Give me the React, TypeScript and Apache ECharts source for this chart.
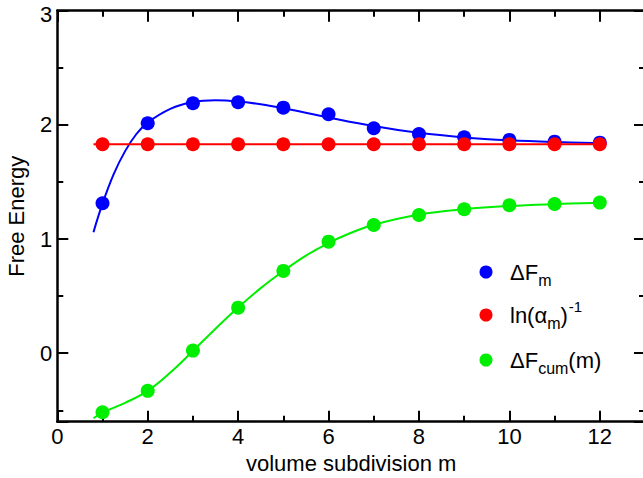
import React, { useEffect, useRef } from "react";
import * as echarts from "echarts";

// ---- data ----
const subdivisions = [1, 2, 3, 4, 5, 6, 7, 8, 9, 10, 11, 12];
const deltaFm = [1.313, 2.014, 2.189, 2.198, 2.151, 2.093, 1.97, 1.92, 1.891, 1.868, 1.853, 1.844];
const lnAlphaInv = [1.83, 1.83, 1.83, 1.83, 1.83, 1.83, 1.83, 1.83, 1.83, 1.83, 1.83, 1.83];
const deltaFcum = [-0.517, -0.33, 0.023, 0.399, 0.721, 0.977, 1.123, 1.211, 1.261, 1.296, 1.307, 1.319];

// fitted curves
const deltaFmFitX = [0.8, 1.0, 1.25, 1.5, 1.75, 2.0, 2.5, 3.0, 3.5, 4.0, 4.5, 5.0, 6.0, 7.0, 8.0, 9.0, 10.0, 11.0, 12.1];
const deltaFmFitY = [1.06, 1.31, 1.57, 1.77, 1.92, 2.02, 2.14, 2.2, 2.215, 2.205, 2.18, 2.145, 2.065, 1.99, 1.93, 1.89, 1.865, 1.85, 1.84];
const lnAlphaFitX = [0.8, 12.1];
const lnAlphaFitY = [1.83, 1.83];
const deltaFcumFitX = [0.8, 1.0, 1.5, 2.0, 2.5, 3.0, 3.5, 4.0, 4.5, 5.0, 5.5, 6.0, 6.5, 7.0, 8.0, 9.0, 10.0, 11.0, 12.1];
const deltaFcumFitY = [-0.57, -0.52, -0.435, -0.33, -0.17, 0.02, 0.215, 0.4, 0.57, 0.72, 0.855, 0.965, 1.055, 1.125, 1.215, 1.262, 1.29, 1.306, 1.318];

const xTickLabels = ["0", "2", "4", "6", "8", "10", "12"];
const yTickLabels = ["0", "1", "2", "3"];

const BLUE = "#0000ff";
const RED = "#ff0000";
const GREEN = "#00ee00";
const FONT = '"Liberation Sans", Arial, Helvetica, sans-serif';

const pairs = (xs: number[], ys: number[]) => xs.map((x, i) => [x, ys[i]]);

export default function App() {
  const ref = useRef<HTMLDivElement>(null);

  useEffect(() => {
    if (!ref.current) return;
    const chart = echarts.init(ref.current, undefined, { renderer: "svg" });

    const axisLineStyle = { color: "#000", width: 2.5 };
    const tickStyle = { color: "#000", width: 2 };
    const labelStyle = { fontSize: 22, color: "#000", fontFamily: FONT };

    const xBase = { type: "value", min: 0, max: 13, splitLine: { show: false } };
    const yBase = { type: "value", min: -0.6, max: 3, splitLine: { show: false } };

    const option: any = {
      animation: false,
      backgroundColor: "#fff",
      grid: { left: 57.3, top: 10.7, right: -2, bottom: 56.3, containLabel: false, outerBoundsMode: "none" },
      xAxis: [
        {
          ...xBase,
          position: "bottom",
          interval: 2,
          axisLine: { show: true, onZero: false, lineStyle: axisLineStyle },
          axisTick: { show: true, inside: true, length: 11, lineStyle: tickStyle },
          axisLabel: {
            show: true,
            margin: 4,
            ...labelStyle,
            formatter: (v: number) => (xTickLabels.includes(String(v)) ? String(v) : ""),
          },
          name: "volume subdivision m",
          nameLocation: "middle",
          nameGap: 28,
          nameTextStyle: labelStyle,
        },
        {
          ...xBase,
          position: "bottom",
          interval: 1,
          axisLine: { show: false, onZero: false },
          axisTick: { show: true, inside: true, length: 6, lineStyle: tickStyle },
          axisLabel: { show: false },
        },
        {
          ...xBase,
          position: "top",
          interval: 2,
          axisLine: { show: true, onZero: false, lineStyle: axisLineStyle },
          axisTick: { show: true, inside: true, length: 11, lineStyle: tickStyle },
          axisLabel: { show: false },
        },
        {
          ...xBase,
          position: "top",
          interval: 1,
          axisLine: { show: false, onZero: false },
          axisTick: { show: true, inside: true, length: 6, lineStyle: tickStyle },
          axisLabel: { show: false },
        },
      ],
      yAxis: [
        {
          ...yBase,
          position: "left",
          splitNumber: 4,
          minInterval: 1,
          maxInterval: 1,
          axisLine: { show: true, onZero: false, lineStyle: axisLineStyle },
          axisTick: { show: true, inside: true, length: 11, lineStyle: tickStyle },
          axisLabel: {
            show: true,
            margin: 5,
            ...labelStyle,
            formatter: (v: number) => {
              const s = String(Math.round(v * 1000) / 1000);
              if (!yTickLabels.includes(s)) return "";
              return s === "3" ? "{t|" + s + "}" : s;
            },
            rich: {
              t: { fontSize: 22, fontFamily: FONT, color: "#000", padding: [7, 0, 0, 0] },
            },
          },
          name: "Free Energy",
          nameLocation: "middle",
          nameGap: 30,
          nameRotate: 90,
          nameTextStyle: labelStyle,
        },
        {
          ...yBase,
          position: "left",
          splitNumber: 7,
          minInterval: 0.5,
          maxInterval: 0.5,
          axisLine: { show: false, onZero: false },
          axisTick: { show: true, inside: true, length: 6, lineStyle: tickStyle },
          axisLabel: { show: false },
        },
        {
          ...yBase,
          position: "right",
          splitNumber: 4,
          minInterval: 1,
          maxInterval: 1,
          axisLine: { show: true, onZero: false, lineStyle: axisLineStyle },
          axisTick: { show: true, inside: true, length: 11, lineStyle: tickStyle },
          axisLabel: { show: false },
        },
        {
          ...yBase,
          position: "right",
          splitNumber: 7,
          minInterval: 0.5,
          maxInterval: 0.5,
          axisLine: { show: false, onZero: false },
          axisTick: { show: true, inside: true, length: 6, lineStyle: tickStyle },
          axisLabel: { show: false },
        },
      ],
      series: [
        {
          name: "ΔFm fit",
          type: "line",
          data: pairs(deltaFmFitX, deltaFmFitY),
          smooth: 0.4,
          symbol: "none",
          lineStyle: { color: BLUE, width: 2 },
          z: 2,
          silent: true,
        },
        {
          name: "ln(αm)^-1 fit",
          type: "line",
          data: pairs(lnAlphaFitX, lnAlphaFitY),
          symbol: "none",
          lineStyle: { color: RED, width: 2 },
          z: 2,
          silent: true,
        },
        {
          name: "ΔFcum fit",
          type: "line",
          data: pairs(deltaFcumFitX, deltaFcumFitY),
          smooth: 0.4,
          symbol: "none",
          lineStyle: { color: GREEN, width: 2 },
          z: 2,
          silent: true,
        },
        {
          name: "ΔFm",
          type: "scatter",
          data: pairs(subdivisions, deltaFm),
          symbol: "circle",
          symbolSize: 14,
          itemStyle: { color: BLUE, opacity: 1 },
          z: 3,
        },
        {
          name: "ln(αm)^-1",
          type: "scatter",
          data: pairs(subdivisions, lnAlphaInv),
          symbol: "circle",
          symbolSize: 14,
          itemStyle: { color: RED, opacity: 1 },
          z: 3,
        },
        {
          name: "ΔFcum(m)",
          type: "scatter",
          data: pairs(subdivisions, deltaFcum),
          symbol: "circle",
          symbolSize: 14,
          itemStyle: { color: GREEN, opacity: 1 },
          z: 3,
        },
      ],
      graphic: [
        { type: "circle", shape: { cx: 486, cy: 272, r: 6.5 }, style: { fill: BLUE }, z: 10 },
        { type: "circle", shape: { cx: 486, cy: 315, r: 6.5 }, style: { fill: RED }, z: 10 },
        { type: "circle", shape: { cx: 486, cy: 360, r: 6.5 }, style: { fill: GREEN }, z: 10 },
        {
          type: "text",
          x: 510,
          y: 272,
          z: 10,
          style: {
            text: "{a|ΔF}{s|m}",
            verticalAlign: "middle",
            align: "left",
            fill: "#000",
            rich: {
              a: { fontSize: 22, fontFamily: FONT, fill: "#000" },
              s: { fontSize: 16, fontFamily: FONT, fill: "#000", padding: [16, 0, 0, 0] },
            },
          },
        },
        {
          type: "text",
          x: 510,
          y: 315,
          z: 10,
          style: {
            text: "{a|ln(α}{s|m}{a|)}{p|-1}",
            verticalAlign: "middle",
            align: "left",
            fill: "#000",
            rich: {
              a: { fontSize: 22, fontFamily: FONT, fill: "#000" },
              s: { fontSize: 16, fontFamily: FONT, fill: "#000", padding: [16, 0, 0, 0] },
              p: { fontSize: 15, fontFamily: FONT, fill: "#000", padding: [0, 0, 18, 1] },
            },
          },
        },
        {
          type: "text",
          x: 510,
          y: 360,
          z: 10,
          style: {
            text: "{a|ΔF}{s|cum}{a|(m)}",
            verticalAlign: "middle",
            align: "left",
            fill: "#000",
            rich: {
              a: { fontSize: 22, fontFamily: FONT, fill: "#000" },
              s: { fontSize: 16, fontFamily: FONT, fill: "#000", padding: [16, 0, 0, 0] },
            },
          },
        },
      ],
    };

    chart.setOption(option);
    return () => chart.dispose();
  }, []);

  return (
    <div
      ref={ref}
      style={{ position: "fixed", left: 0, top: 0, width: 643, height: 478, background: "#fff" }}
    />
  );
}
